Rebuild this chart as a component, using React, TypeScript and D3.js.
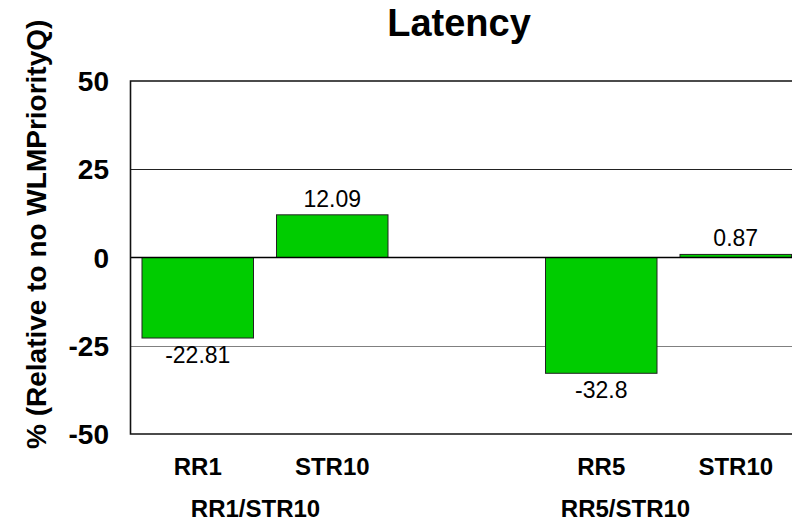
import React from "react";
import * as d3 from "d3";

const slots = ["s0", "s1", "s2", "s3", "s4"];
const barSlots = ["s0", "s1", "s3", "s4"];
const barLabels = ["RR1", "STR10", "RR5", "STR10"];
const barValues = [-22.81, 12.09, -32.8, 0.87];
const valueLabels = ["-22.81", "12.09", "-32.8", "0.87"];
const groups = ["RR1/STR10", "RR5/STR10"];
const groupSlots = [["s0", "s1"], ["s3", "s4"]];
const groupNudge = [-9.5, -43];
const yTicks = [50, 25, 0, -25, -50];

const W = 792;
const H = 522;
const FONT = "'Liberation Sans', Arial, Helvetica, sans-serif";

export default function App() {
  const left = 130.5;
  const top = 81;
  const bottom = 434;
  const x = d3.scaleBand<string>().domain(slots).range([left, 803]).paddingInner(0.171).paddingOuter(0.0855);
  const y = d3.scaleLinear().domain([-50, 50]).range([bottom, top]);
  const y0 = y(0);

  return (
    <svg width={W} height={H} style={{ position: "absolute", left: 0, top: 0, background: "#fff" }} fontFamily={FONT}>
      <rect x={0} y={0} width={W} height={H} fill="#fff" />
      <text x={459} y={36} textAnchor="middle" fontSize={38} fontWeight="bold" fill="#000">Latency</text>

      {/* gridlines */}
      {yTicks.filter(t => t !== 0 && Math.abs(t) !== 50).map(t => (
        <line key={t} x1={left} x2={W} y1={Math.round(y(t)) + 0.5} y2={Math.round(y(t)) + 0.5}
          stroke={t > 0 ? "#222" : "#808080"} strokeWidth={1} />
      ))}

      {/* bars */}
      {barSlots.map((s, i) => {
        const v = barValues[i];
        const x0 = x(s)!;
        const yy = Math.min(y(v), y0);
        const h = Math.abs(y(v) - y0);
        return (
          <rect key={i} x={x0} y={yy} width={x.bandwidth()} height={h} fill="#00CC00" stroke="#222" strokeWidth={1} />
        );
      })}

      {/* zero line */}
      <line x1={left} x2={W} y1={y0} y2={y0} stroke="#000" strokeWidth={1.3} />

      {/* frame */}
      <path d={`M${W + 5},${top} H${left} V${bottom} H${W + 5}`} fill="none" stroke="#111" strokeWidth={1.6} />

      {/* value labels */}
      {barSlots.map((s, i) => {
        const v = barValues[i];
        const cx = x(s)! + x.bandwidth() / 2;
        const ty = v >= 0 ? y(v) - 8 : y(v) + 25;
        return (
          <text key={i} x={cx} y={ty} textAnchor="middle" fontSize={23} fill="#000">{valueLabels[i]}</text>
        );
      })}

      {/* y ticks */}
      {yTicks.map(t => (
        <text key={t} x={109} y={y(t)} dy="0.36em" textAnchor="end" fontSize={28} fontWeight="bold" fill="#000">{t}</text>
      ))}

      {/* category labels */}
      {barSlots.map((s, i) => (
        <text key={i} x={x(s)! + x.bandwidth() / 2} y={475} textAnchor="middle" fontSize={24} fontWeight="bold" fill="#000">{barLabels[i]}</text>
      ))}

      {/* group labels */}
      {groups.map((g, i) => {
        const a = x(groupSlots[i][0])!;
        const b = x(groupSlots[i][1])! + x.bandwidth();
        return (
          <text key={g} x={(a + b) / 2 + groupNudge[i]} y={517} textAnchor="middle" fontSize={24} fontWeight="bold" fill="#000">{g}</text>
        );
      })}

      {/* y axis title */}
      <text transform="translate(46,449) rotate(-90)" textAnchor="start" fontSize={28} fontWeight="bold" fill="#000">% (Relative to no WLMPriorityQ)</text>
    </svg>
  );
}
